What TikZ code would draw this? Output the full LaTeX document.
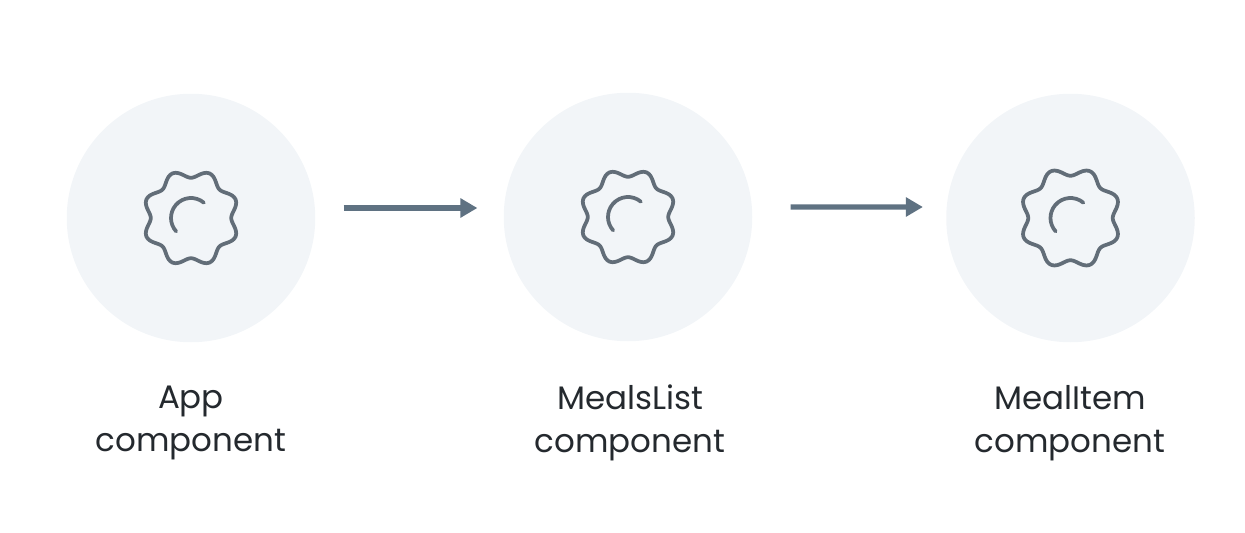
\documentclass[tikz,border=0pt]{standalone}
\usepackage{xcolor}
\usepackage{fontspec}
\setmainfont{Poppins}
\usetikzlibrary{arrows.meta}
\definecolor{discfill}{HTML}{F2F5F8}
\definecolor{gearline}{HTML}{626D78}
\definecolor{flowline}{HTML}{5F7282}
\definecolor{labeltext}{HTML}{24292E}
\tikzset{
    disc/.style={circle, fill=discfill, minimum size=4.97cm, inner sep=0pt},
    flowarrow/.style={draw=flowline, line width=1.05mm, -{Triangle[length=3.4mm,width=3.7mm]}},
    complabel/.style={align=center, text=labeltext, font=\fontsize{18.5}{24.5}\selectfont},
    pics/gearicon/.style={
        code={
            \draw[gearline, line width=0.75mm, line join=round, smooth, samples=193, domain=0:360]
                plot (\x:{#1*(0.885+0.08*cos(8*(\x-22.5)))}) -- cycle;
            \draw[gearline, line width=0.75mm, line cap=round]
                (50:0.4) arc (50:222:0.4);
        }
    }
}
\begin{document}
\begin{tikzpicture}
\useasboundingbox (0,0) rectangle (24.9,10.64);

% discs
\node[disc] (app) at (3.82,6.28) {};
\node[disc] (meals) at (12.56,6.3) {};
\node[disc] (item) at (21.41,6.28) {};

% gears
\pic at (app) {gearicon=1};
\pic at (meals) {gearicon=1};
\pic at (item) {gearicon=1.05};

% labels
\node[complabel] (applabel) at (3.82,2.18) {App\\component};
\node[complabel] (mealslabel) at (12.6,2.18) {MealsList\\component};
\node[complabel] (itemlabel) at (21.4,2.18) {MealItem\\component};

% arrows
\draw[flowarrow, shorten <=0.56cm, shorten >=0.52cm] ([yshift=0.2cm]app.east) -- ([yshift=0.18cm]meals.west);
\draw[flowarrow, shorten <=0.76cm, shorten >=0.46cm] ([yshift=0.2cm]meals.east) -- ([yshift=0.22cm]item.west);
\end{tikzpicture}
\end{document}
